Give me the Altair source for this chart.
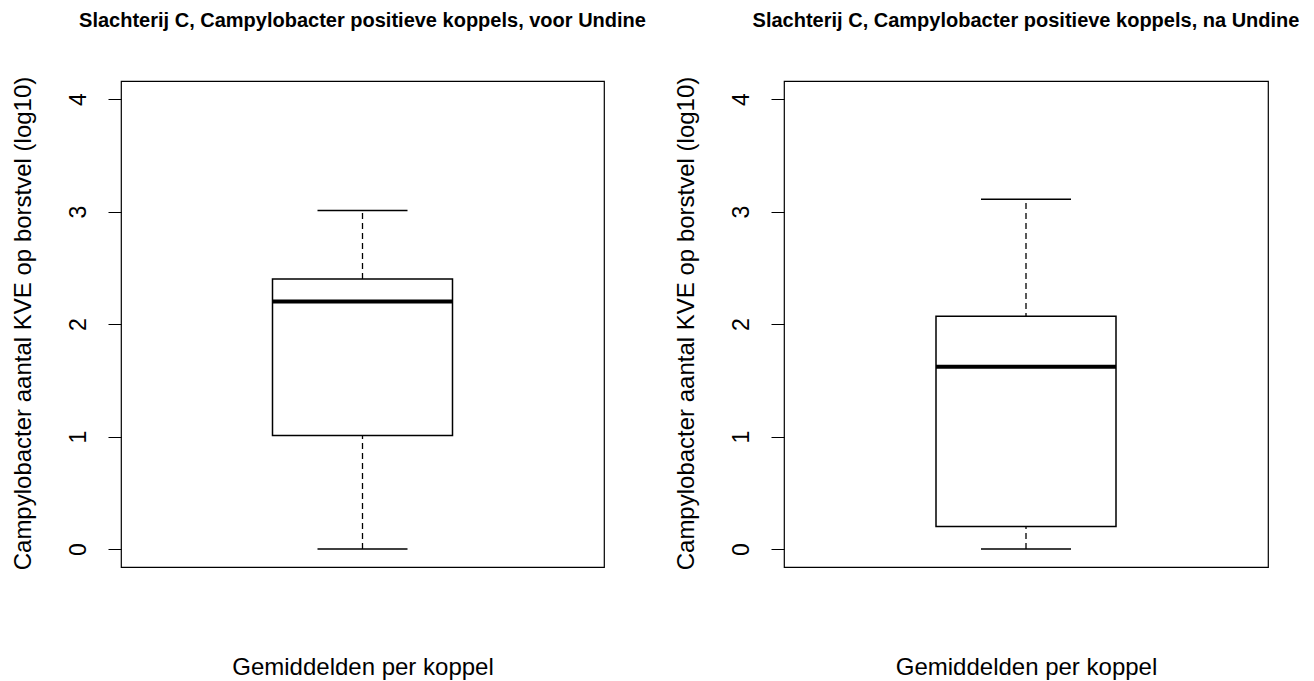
import altair as alt
import pandas as pd

FONT = "Liberation Sans, Arial, sans-serif"

titles = [
    "Slachterij C, Campylobacter positieve koppels, voor Undine",
    "Slachterij C, Campylobacter positieve koppels, na Undine",
]
category = "Gemiddelden per koppel"
whisker_lo = [0.0, 0.0]
q1 = [1.01, 0.20]
median = [2.20, 1.62]
q3 = [2.40, 2.07]
whisker_hi = [3.01, 3.11]
y_ticks = [0, 1, 2, 3, 4]
y_title = "Campylobacter aantal KVE op borstvel (log10)"


def panel(i, width):
    df = pd.DataFrame({
        "cat": [category],
        "lo": [whisker_lo[i]],
        "q1": [q1[i]],
        "med": [median[i]],
        "q3": [q3[i]],
        "hi": [whisker_hi[i]],
    })
    base = alt.Chart(df)
    x = alt.X(
        "cat:N",
        axis=alt.Axis(labels=False, ticks=False, domain=False,
                      title=category, titleFontSize=24, titleFontWeight="normal",
                      titleFont=FONT, titleColor="black",
                      titleY=100, titleBaseline="middle"),
    )
    yscale = alt.Scale(domain=[-0.16, 4.16], nice=False, zero=False)
    y = alt.Y(
        "lo:Q", scale=yscale,
        axis=alt.Axis(values=y_ticks, format="d", title=y_title,
                      titleAngle=270, titleX=-98, titleY=242,
                      titleAlign="center", titleBaseline="middle",
                      titleFontSize=24, titleFontWeight="normal", titleFont=FONT,
                      titleColor="black",
                      labelAngle=270, labelAlign="center", labelBaseline="middle",
                      labelPadding=30, labelFontSize=23, labelFont=FONT,
                      labelColor="black", tickSize=13, tickColor="black",
                      tickWidth=1, domain=False, grid=False),
    )
    whisk = base.mark_rule(color="black", strokeWidth=1.3, strokeDash=[6, 4]).encode(
        x=x, y=y, y2="hi:Q")
    box = base.mark_bar(size=180, fill="white", stroke="black", strokeWidth=1.5).encode(
        x=x, y=alt.Y("q1:Q", scale=yscale), y2="q3:Q")
    cap_lo = base.mark_tick(size=90, thickness=1.5, color="black", opacity=1).encode(
        x=x, y=alt.Y("lo:Q", scale=yscale))
    cap_hi = base.mark_tick(size=90, thickness=1.5, color="black", opacity=1).encode(
        x=x, y=alt.Y("hi:Q", scale=yscale))
    med = base.mark_tick(size=180, thickness=4, color="black", opacity=1).encode(
        x=x, y=alt.Y("med:Q", scale=yscale))
    return alt.layer(whisk, box, cap_lo, cap_hi, med).properties(
        width=width, height=486,
        title=alt.Title(titles[i], fontSize=20, fontWeight="bold", font=FONT,
                        color="black", anchor="middle", offset=45),
    )


chart = alt.hconcat(panel(0, 483), panel(1, 484), spacing=180, bounds="flush").properties(
    padding={"left": 2, "top": 2, "right": 2, "bottom": 0},
    background="white",
).configure_view(stroke="black", strokeWidth=1.2)

chart.save("out.html", embed_options={"renderer": "svg", "actions": False})
